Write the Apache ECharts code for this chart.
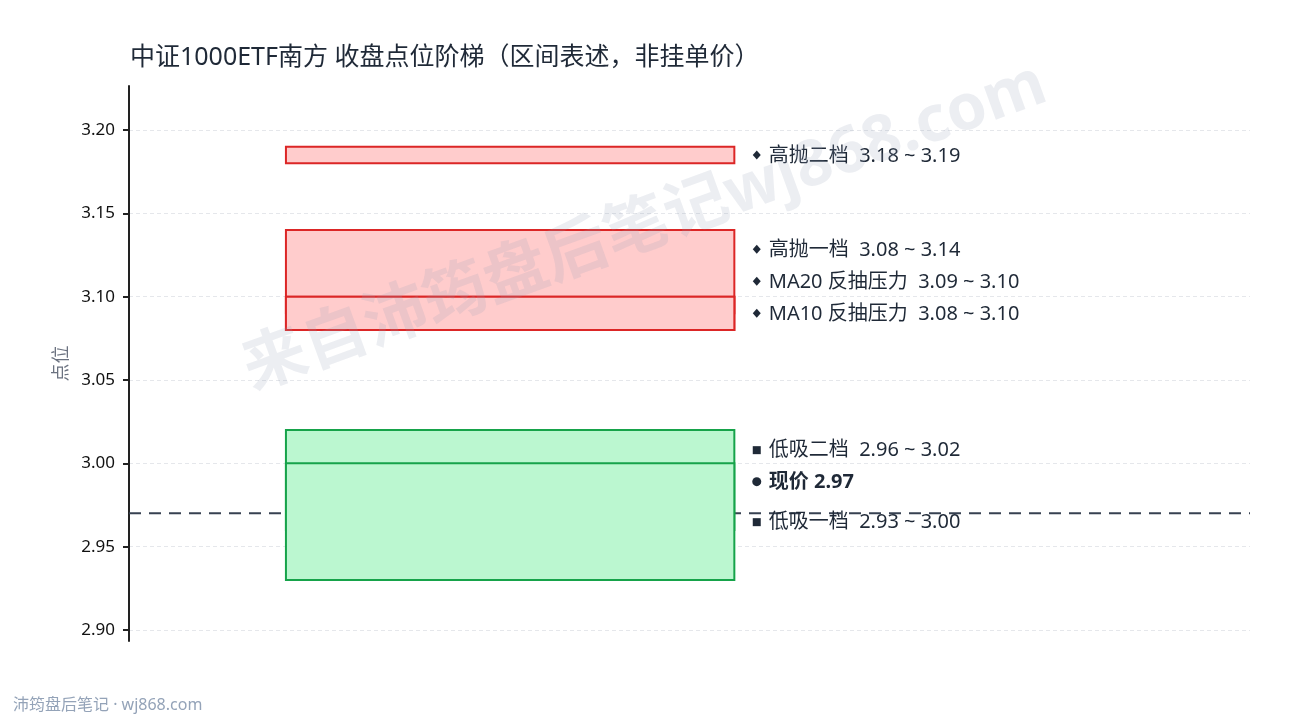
<!DOCTYPE html>
<html>
<head>
<meta charset="utf-8">
<script src="https://cdn.jsdelivr.net/npm/echarts@6/dist/echarts.min.js"></script>
<style>
  html, body { margin: 0; padding: 0; background: #ffffff; }
  #chart { width: 1290px; height: 720px; }
</style>
</head>
<body>
<div id="chart"></div>
<script>
// ---- data ----
const zoneNames = ['高抛二档', '高抛一档', 'MA20 反抽压力', 'MA10 反抽压力', '低吸二档', '低吸一档'];
const zoneLow   = [3.18, 3.08, 3.09, 3.08, 2.96, 2.93];
const zoneHigh  = [3.19, 3.14, 3.10, 3.10, 3.02, 3.00];
const zoneSide  = ['sell', 'sell', 'sell', 'sell', 'buy', 'buy'];
const currentLabel = '现价';
const currentPrice = 2.97;
const yTickLabels = ['2.90', '2.95', '3.00', '3.05', '3.10', '3.15', '3.20'];
const titleText = '中证1000ETF南方 收盘点位阶梯（区间表述，非挂单价）';
const yAxisName = '点位';
const footerText = '沛筠盘后笔记 · wj868.com';
const watermarkText = '来自沛筠盘后笔记wj868.com';

// ---- derived ----
const FONT = '"Noto Sans", "Noto Sans CJK SC", sans-serif';
const tickVals = yTickLabels.map(Number);
const tickMin = tickVals[0], tickMax = tickVals[tickVals.length - 1];
const tickStep = +(tickVals[1] - tickVals[0]).toFixed(4);
const dataLo = Math.min(...zoneLow), dataHi = Math.max(...zoneHigh);
const pad = (dataHi - dataLo) * 0.14;

const sideStyle = {
  sell: { fill: '#ffcccc', stroke: '#dc2626', marker: 'diamond' },
  buy:  { fill: '#bbf7d0', stroke: '#16a34a', marker: 'square' }
};

const boxData = zoneNames.map((n, i) => [zoneLow[i], zoneHigh[i], i]);

// label layout (spread upward to avoid overlaps)
const entries = zoneNames.map((n, i) => ({
  text: n + '  ' + zoneLow[i].toFixed(2) + ' ~ ' + zoneHigh[i].toFixed(2),
  center: (zoneLow[i] + zoneHigh[i]) / 2,
  marker: sideStyle[zoneSide[i]].marker,
  bold: false
}));
entries.push({ text: currentLabel + ' ' + currentPrice.toFixed(2), center: currentPrice, marker: 'circle', bold: true });
entries.sort((a, b) => a.center - b.center);
const GAP = 0.0192;
let prev = -Infinity;
entries.forEach(e => {
  const g = GAP * (e.bold ? 1.25 : 1);
  e.y = Math.max(e.center, prev + g);
  prev = e.y;
});
const labelData = entries.map((e, i) => [e.y, i]);

const BOX_X0 = 0.14, BOX_X1 = 0.54, LABEL_X = 0.56;

const chart = echarts.init(document.getElementById('chart'));
chart.setOption({
  animation: false,
  backgroundColor: '#ffffff',
  textStyle: { fontFamily: FONT },
  title: {
    text: titleText,
    left: 130, top: 45, padding: 0,
    textStyle: { fontFamily: FONT, fontSize: 25, fontWeight: 'normal', color: '#1f2937' }
  },
  grid: [
    { left: 129, right: 40, top: 86, bottom: 79 },
    { left: 129, right: 40, top: 130, bottom: 90 }
  ],
  xAxis: [
    { type: 'value', gridIndex: 0, min: 0, max: 1, show: false },
    { type: 'value', gridIndex: 1, min: 0, max: 1, show: false }
  ],
  yAxis: [
    {
      type: 'value', gridIndex: 0, min: dataLo - pad, max: dataHi + pad,
      axisLine: { show: true, lineStyle: { color: '#222222', width: 2 } },
      axisTick: { show: false }, axisLabel: { show: false }, splitLine: { show: false },
      name: yAxisName, nameLocation: 'middle', nameGap: 58, nameRotate: 90,
      nameTextStyle: { fontFamily: FONT, fontSize: 18, color: '#6b7280' }
    },
    {
      type: 'value', gridIndex: 1, min: tickMin, max: tickMax, interval: tickStep,
      axisLine: { show: false },
      axisTick: { show: true, length: 6, lineStyle: { color: '#222222', width: 2 } },
      axisLabel: { margin: 14, fontFamily: FONT, fontSize: 17, color: '#111111',
        formatter: v => v.toFixed(2) },
      splitLine: { show: true, lineStyle: { color: '#e5e7eb', width: 1, type: [4, 3] } }
    }
  ],
  graphic: [
    {
      type: 'text', x: 645, y: 228, rotation: 20 * Math.PI / 180, z: 100, silent: true,
      style: { text: watermarkText, fontFamily: FONT, fontSize: 64, fontWeight: 'bold',
        fill: 'rgba(148,163,184,0.18)', align: 'center', verticalAlign: 'middle' }
    },
    {
      type: 'text', left: 13, top: 697, z: 100,
      style: { text: footerText, fontFamily: FONT, fontSize: 16, fill: '#94a3b8' }
    }
  ],
  series: [
    {
      type: 'line', xAxisIndex: 1, yAxisIndex: 1, z: 1,
      data: [[0, currentPrice], [1, currentPrice]],
      showSymbol: false, silent: true,
      lineStyle: { color: '#374151', width: 2, type: [12, 8] }
    },
    {
      type: 'custom', xAxisIndex: 1, yAxisIndex: 1, z: 3, clip: false, silent: true,
      data: boxData,
      renderItem: function (params, api) {
        const lo = api.value(0), hi = api.value(1), idx = api.value(2);
        const st = sideStyle[zoneSide[idx]];
        const p0 = api.coord([BOX_X0, hi]);
        const p1 = api.coord([BOX_X1, lo]);
        return {
          type: 'rect',
          shape: { x: p0[0], y: p0[1], width: p1[0] - p0[0], height: p1[1] - p0[1] },
          style: { fill: st.fill, stroke: st.stroke, lineWidth: 2 }
        };
      }
    },
    {
      type: 'custom', xAxisIndex: 1, yAxisIndex: 1, z: 4, clip: false, silent: true,
      data: labelData,
      renderItem: function (params, api) {
        const e = entries[api.value(1)];
        const p = api.coord([LABEL_X, api.value(0)]);
        const mx = p[0], my = p[1];
        let marker;
        if (e.marker === 'diamond') {
          marker = { type: 'polygon', shape: { points: [[mx, my - 4.5], [mx + 4, my], [mx, my + 4.5], [mx - 4, my]] },
            style: { fill: '#1f2937' } };
        } else if (e.marker === 'square') {
          marker = { type: 'rect', shape: { x: mx - 4, y: my - 3.5, width: 8, height: 8 }, style: { fill: '#1f2937' } };
        } else {
          marker = { type: 'circle', shape: { cx: mx, cy: my, r: 4.5 }, style: { fill: '#1f2937' } };
        }
        return {
          type: 'group',
          children: [
            marker,
            {
              type: 'text', x: mx + 12, y: my + 1,
              style: { text: e.text, fontFamily: FONT, fontSize: 20,
                fontWeight: e.bold ? 'bold' : 'normal', fill: '#1f2937',
                align: 'left', verticalAlign: 'middle' }
            }
          ]
        };
      }
    }
  ]
});
</script>
</body>
</html>
